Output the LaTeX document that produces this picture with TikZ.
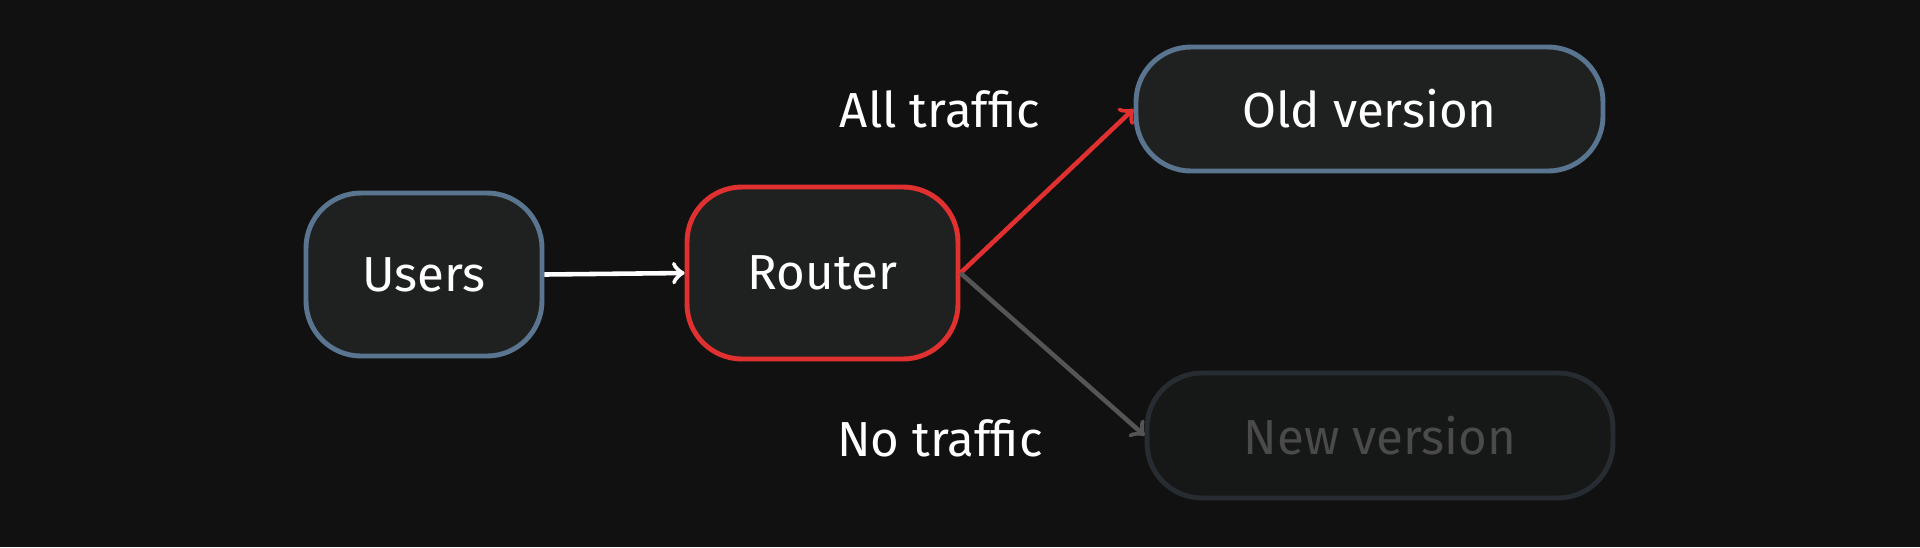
\documentclass[tikz,border=0pt]{standalone}
\usepackage{fontspec}
\setmainfont{Fira Sans}
\usepackage{xcolor}
\usepackage{tikz}
\usetikzlibrary{positioning}

\definecolor{bgdark}{HTML}{111111}
\definecolor{boxfill}{HTML}{1F2121}
\definecolor{slateedge}{HTML}{5A7590}
\definecolor{routerred}{HTML}{E0302F}
\definecolor{idlegray}{HTML}{555555}
\definecolor{idlefill}{HTML}{161717}
\definecolor{idleedge}{HTML}{272C32}
\definecolor{idletext}{HTML}{4A4A4A}

\begin{document}
\begin{tikzpicture}[node distance=4cm, auto,
    block/.style={rectangle, rounded corners=0.55cm, draw=slateedge, line width=1.4pt, fill=boxfill, text=white, text centered, font=\fontsize{14}{17}\selectfont},
    label/.style={text=white, font=\fontsize{14}{17}\selectfont},
    arrow/.style={->, line width=1.3pt}]

    \fill[bgdark] (0,0) rectangle (19.2,5.47);
    \useasboundingbox (0,0) rectangle (19.2,5.47);

    \node[block, minimum width=2.36cm, minimum height=1.63cm] (users) at (4.24,2.725) {Users};
    \node[block, draw=routerred, minimum width=2.71cm, minimum height=1.72cm, right of=users, xshift=-0.015cm, yshift=0.015cm] (router) {Router};
    \node[block, minimum width=4.67cm, minimum height=1.24cm, right of=router, xshift=1.47cm, yshift=1.64cm] (old) {Old version};
    \node[block, draw=idleedge, fill=idlefill, text=idletext, minimum width=4.66cm, minimum height=1.25cm, right of=router, xshift=1.575cm, yshift=-1.625cm] (new) {New version};

    \node[label, left of=old, xshift=-0.295cm] (alltraffic) {All traffic};
    \node[label, left of=new, xshift=-0.40cm, yshift=-0.025cm] (notraffic) {No traffic};

    \draw[arrow, white] (users.east) -- (router.west);
    \draw[arrow, routerred] (router.east) -- (old.west);
    \draw[arrow, idlegray] (router.east) -- (new.west);
\end{tikzpicture}
\end{document}
